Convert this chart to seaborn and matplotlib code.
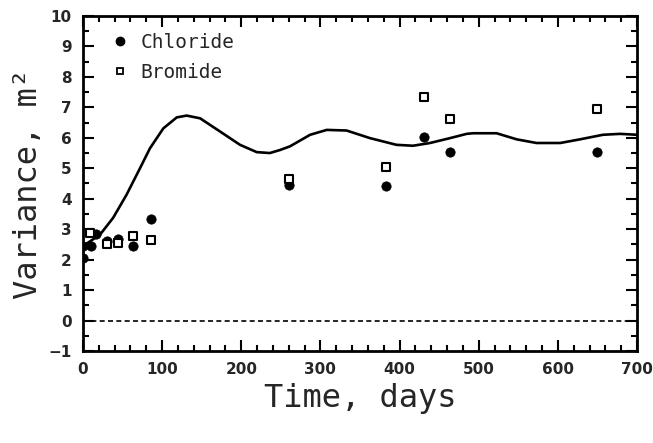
import matplotlib
matplotlib.use("Agg")
import matplotlib.pyplot as plt
import seaborn as sns
import pandas as pd
from matplotlib.ticker import MultipleLocator
from matplotlib.lines import Line2D

sns.set_theme(style="ticks")
plt.rcParams['font.family'] = ['DejaVu Sans']

# Data
chl_x = [0, 0, 10, 17, 30, 44, 63, 86, 260, 383, 431, 464, 649]
chl_y = [2.05, 2.45, 2.45, 2.85, 2.6, 2.68, 2.44, 3.35, 4.45, 4.43, 6.03, 5.52, 5.52]
bro_x = [9, 30, 44, 63, 86, 260, 383, 431, 464, 649]
bro_y = [2.88, 2.52, 2.55, 2.76, 2.63, 4.65, 5.03, 7.33, 6.63, 6.93]
fit_x = [0, 2.5, 21.5, 38, 55, 72, 84.7, 101.5, 118.4, 131, 148, 173, 198.4, 219.5,
         236, 249, 261.5, 287, 308, 333, 362.6, 396, 417, 438.5, 463.7, 484.8, 493,
         522.6, 548, 573, 603, 628, 657, 678.5, 700]
fit_y = [2.35, 2.49, 2.82, 3.37, 4.13, 5.0, 5.66, 6.31, 6.67, 6.73, 6.64, 6.21, 5.77, 5.53,
         5.5, 5.6, 5.72, 6.1, 6.26, 6.24, 5.99, 5.77, 5.74, 5.83, 5.99, 6.13, 6.15,
         6.15, 5.95, 5.83, 5.83, 5.95, 6.1, 6.13, 6.1]
zero_x = [0, 700]
zero_y = [0, 0]

fig = plt.figure(figsize=(6.53, 4.43), dpi=100)
ax = fig.add_axes([83/653, 1-351/443, (637-83)/653, (351-16)/443])

sns.lineplot(x=fit_x, y=fit_y, ax=ax, color='black', linewidth=1.9, sort=False)
sns.lineplot(x=zero_x, y=zero_y, ax=ax, color='black', linewidth=1.2, linestyle=(0, (3, 2)))
sns.scatterplot(x=chl_x, y=chl_y, ax=ax, marker='o', color='black', s=45, edgecolor='black', zorder=3)
sns.scatterplot(x=bro_x, y=bro_y, ax=ax, marker='s', facecolor='white', edgecolor='black',
                s=32, linewidth=1.5, zorder=4)

ax.set_xlim(0, 700)
ax.set_ylim(-1, 10)
ax.xaxis.set_major_locator(MultipleLocator(100))
ax.xaxis.set_minor_locator(MultipleLocator(20))
ax.yaxis.set_major_locator(MultipleLocator(1))
ax.yaxis.set_minor_locator(MultipleLocator(0.5))
ax.tick_params(which='both', direction='in', top=True, right=True, width=1.5, color='black')
ax.tick_params(which='major', length=8, labelsize=11, pad=8)
ax.tick_params(which='minor', length=4)
for lab in ax.get_xticklabels() + ax.get_yticklabels():
    lab.set_fontweight('bold')
for sp in ax.spines.values():
    sp.set_linewidth(2)
    sp.set_color('black')

ax.set_xlabel('Time, days', fontsize=23, family='DejaVu Sans Mono', labelpad=4)
ax.set_ylabel('Variance, m²', fontsize=23, family='DejaVu Sans Mono', labelpad=3)

handles = [Line2D([], [], marker='o', color='black', linestyle='none', markersize=6),
           Line2D([], [], marker='s', markerfacecolor='white', markeredgecolor='black',
                  markeredgewidth=1.3, linestyle='none', markersize=5)]
ax.legend(handles, ['Chloride', 'Bromide'], loc='upper left', frameon=False,
          bbox_to_anchor=(0.049, 0.949), borderaxespad=0, borderpad=0,
          prop={'family': 'DejaVu Sans Mono', 'size': 14}, handletextpad=0.55,
          labelspacing=0.55, handlelength=1.0)

fig.savefig('out.png', dpi=100)
